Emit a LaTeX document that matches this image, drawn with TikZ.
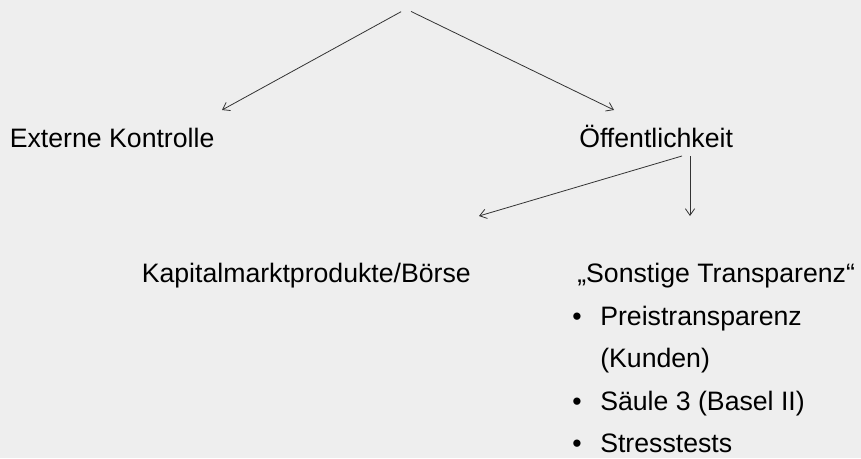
\documentclass[tikz,border=0pt]{standalone}
\usepackage{fontspec}
\setmainfont{Liberation Sans}
\usetikzlibrary{arrows.meta}
\definecolor{bggray}{HTML}{EEEEEE}

\begin{document}
\begin{tikzpicture}[x=0.75pt,y=-0.75pt]
	\tikzstyle{every node}=[inner sep=0pt, anchor=base west, font=\fontsize{20}{24}\selectfont]
	\tikzstyle{link}=[draw=black!80, line width=0.6pt, -{Straight Barb[length=5pt,width=7pt]}]
	\fill[bggray] (0,0) rectangle (861,458);
	\useasboundingbox (0,0) rectangle (861,458);

	\node[circle, anchor=center, minimum size=8] (top) at (406,9) {};

	\node (ext) at (9.6,147)  {Externe Kontrolle};
	\node (oef) at (579,147)  {Öffentlichkeit};

	\node (kap) at (141.5,282) {Kapitalmarktprodukte/Börse};
	\node (son) at (577,282)   {„Sonstige Transparenz“};

	\node (b1)     at (572,325) {\textbullet};
	\node (preis)  at (600,325) {Preistransparenz};
	\node (kunden) at (600,367) {(Kunden)};
	\node (b2)     at (572,410) {\textbullet};
	\node (saeule) at (600,410) {Säule 3 (Basel II)};
	\node (b3)     at (572,452) {\textbullet};
	\node (stress) at (600,452) {Stresstests};

	% arrow ends
	\coordinate (ext-in) at (222,110);
	\coordinate (oef-in) at (614,110);
	\coordinate (oef-l)  at (682,156);
	\coordinate (oef-d)  at (690,156);
	\coordinate (kap-in) at (479,216);
	\coordinate (son-in) at (690,216);

	\draw [link] (top) to (ext-in);
	\draw [link] (top) to (oef-in);
	\draw [link] (oef-l) to (kap-in);
	\draw [link] (oef-d) to (son-in);
\end{tikzpicture}
\end{document}
